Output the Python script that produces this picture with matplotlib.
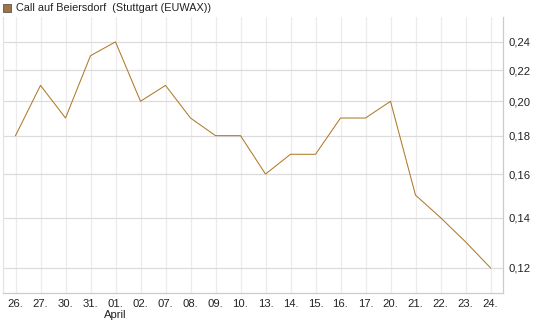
import matplotlib
matplotlib.use("Agg")
import matplotlib.pyplot as plt
from matplotlib.ticker import FixedLocator, NullLocator, FuncFormatter
from matplotlib.patches import Rectangle

plt.rcParams['font.family'] = ['Liberation Sans', 'DejaVu Sans']

dates = ["26.", "27.", "30.", "31.", "01.", "02.", "07.", "08.", "09.", "10.",
         "13.", "14.", "15.", "16.", "17.", "20.", "21.", "22.", "23.", "24."]
values = [0.18, 0.21, 0.19, 0.23, 0.24, 0.20, 0.21, 0.19, 0.18, 0.18,
          0.16, 0.17, 0.17, 0.19, 0.19, 0.20, 0.15, 0.14, 0.13, 0.12]
yticks = [0.12, 0.14, 0.16, 0.18, 0.20, 0.22, 0.24]
month_label = "April"
month_index = 4
title = "Call auf Beiersdorf  (Stuttgart (EUWAX))"

W, H = 545, 327
fig = plt.figure(figsize=(W / 100, H / 100), dpi=100)
left, right, top, bottom = 3, 503, 17, 293
ax = fig.add_axes([left / W, 1 - bottom / H, (right - left) / W, (bottom - top) / H])

x = list(range(len(dates)))
ax.plot(x, values, color="#b07a2a", lw=0.75)
ax.set_yscale("log")
ax.set_ylim(0.1111, 0.259)
ax.set_xlim(-0.5, len(dates) - 0.5)

ax.yaxis.set_major_locator(FixedLocator(yticks))
ax.yaxis.set_minor_locator(NullLocator())
ax.yaxis.set_major_formatter(FuncFormatter(lambda v, p: f"{v:.2f}".replace(".", ",")))
ax.yaxis.tick_right()
ax.set_xticks(x)
ax.set_xticklabels(dates)
ax.tick_params(axis="both", length=0, labelsize=8.1, colors="#222222")
ax.tick_params(axis="y", pad=4)
ax.tick_params(axis="x", pad=4)

ax.grid(axis="x", color="#ececec", lw=0.9)
ax.grid(axis="y", color="#dcdcdc", lw=0.9)
ax.set_axisbelow(True)
ax.spines["top"].set_visible(False)
ax.spines["left"].set_color("#e4e4e4")
ax.spines["right"].set_color("#cccccc")
ax.spines["bottom"].set_color("#cccccc")
for s in ax.spines.values():
    s.set_linewidth(0.9)

ax.text(month_index, -0.061, month_label, transform=ax.get_xaxis_transform(),
        ha="center", va="top", fontsize=8.1, color="#222222")

fig.patches.append(Rectangle((3 / W, 1 - 12 / H), 8 / W, 8 / H, transform=fig.transFigure,
                             facecolor="#a07545", edgecolor="#555555", lw=0.6))
fig.text(16 / W, 1 - 8 / H, title, ha="left", va="center", fontsize=7.8, color="#222222")

fig.savefig("out.png", dpi=100)
